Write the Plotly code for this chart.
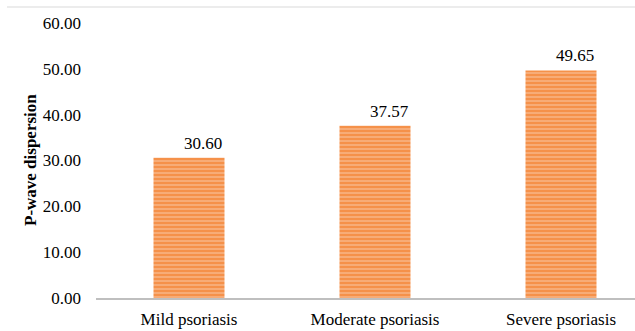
import plotly.graph_objects as go

# Mean P-wave dispersion by psoriasis severity
categories = ["Mild psoriasis", "Moderate psoriasis", "Severe psoriasis"]
values = [30.60, 37.57, 49.65]
y_ticks = [0, 10, 20, 30, 40, 50, 60]
y_tick_labels = [f"{t:.2f}" for t in y_ticks]

W, H = 635, 331
ML, MR, MT, MB = 96, 0, 23, 33
cat_px = 186  # pixel width per category
plot_w = W - ML - MR

serif = "Times New Roman"

fig = go.Figure()
fig.add_trace(go.Bar(
    x=list(range(len(categories))),
    y=values,
    marker=dict(
        color="#F6A066",
        line=dict(width=0),
        pattern=dict(shape="-", fgcolor="#FCE0CC", bgcolor="#F5914A",
                     size=4, solidity=0.35),
    ),
    hoverinfo="skip",
))

for i, v in enumerate(values):
    fig.add_annotation(
        x=i, y=v, text=f"{v:.2f}", showarrow=False,
        xanchor="center", yanchor="bottom", xshift=14, yshift=3,
        font=dict(family=serif, size=17, color="#000000"),
    )

# vertical axis title
fig.add_annotation(
    xref="paper", yref="paper", x=(30.5 - ML) / plot_w, y=0.5,
    text="<b>P-wave dispersion</b>", textangle=-90, showarrow=False,
    xanchor="center", yanchor="middle",
    font=dict(family=serif, size=17, color="#000000"),
)

# thin frame line along the top of the chart area
fig.add_shape(
    type="line", xref="paper", yref="paper",
    x0=(7 - ML) / plot_w, x1=1.0,
    y0=1 + (MT - 7) / (H - MT - MB), y1=1 + (MT - 7) / (H - MT - MB),
    line=dict(color="#D9D9D9", width=1),
)

fig.update_layout(
    width=W, height=H,
    margin=dict(l=ML, r=MR, t=MT, b=MB),
    paper_bgcolor="white", plot_bgcolor="white",
    bargap=1 - 71 / cat_px,
    showlegend=False,
    font=dict(family=serif, size=17, color="#000000"),
)
fig.update_xaxes(
    range=[-0.5, -0.5 + plot_w / cat_px],
    tickmode="array", tickvals=list(range(len(categories))), ticktext=categories,
    showgrid=False, zeroline=False,
    showline=True, linecolor="#BFBFBF", linewidth=1.5,
    ticks="", ticklabelstandoff=5,
    tickfont=dict(family=serif, size=17, color="#000000"),
)
fig.update_yaxes(
    range=[0, 60],
    tickmode="array", tickvals=y_ticks, ticktext=y_tick_labels,
    showgrid=False, zeroline=False, showline=False,
    ticks="", ticklabelstandoff=14,
    tickfont=dict(family=serif, size=17, color="#000000"),
)

fig.write_html("out.html")
